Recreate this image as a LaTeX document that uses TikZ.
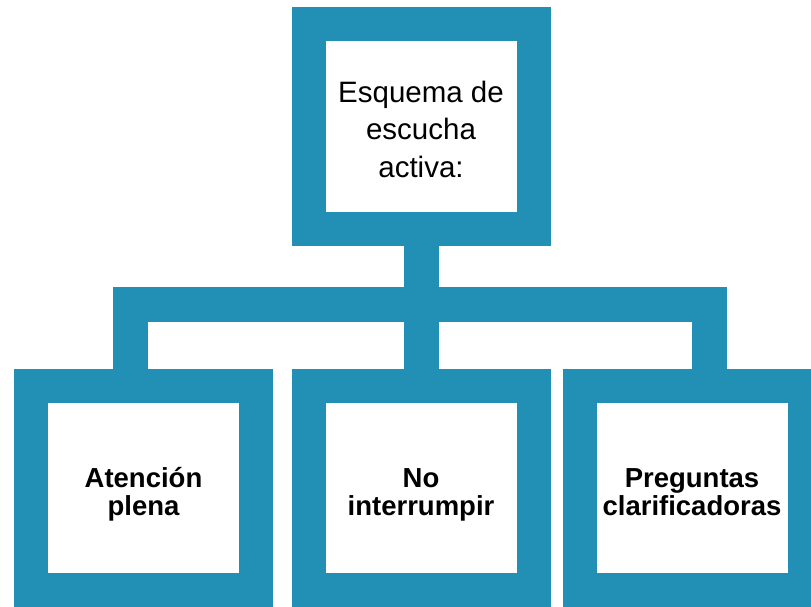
\documentclass[tikz,border=0pt]{standalone}
\usepackage{fontspec}
\setmainfont{Liberation Sans}
\usetikzlibrary{positioning, calc}
\definecolor{escuchaBlue}{RGB}{34,144,181}
\newcommand{\leafup}{\rule{0pt}{33pt}}
\newcommand{\leafdown}{\rule[-6pt]{0pt}{6pt}}
\newcommand{\ttlup}{\rule{0pt}{27pt}}

\begin{document}
\begin{tikzpicture}[
  x=1pt, y=-1pt,
  %% Framed box style (thick blue frame, white inside)
  frame/.style={
    rectangle, fill=white, draw=escuchaBlue,
    line width=34pt, inner sep=0pt,
    minimum width=225pt, minimum height=204pt,
    align=center
  },
  %% Title text
  ttl/.style={font=\fontsize{29.5}{37.5}\selectfont},
  %% Leaf text
  leaf/.style={font=\fontsize{27.5}{27.5}\selectfont\bfseries},
  %% Tree connector
  link/.style={draw=escuchaBlue, line width=35pt, line join=miter},
]

%% ── canvas ─────────────────────────────────────────────────────────────────
\clip (0,0) rectangle (811,606);
\fill[white] (0,0) rectangle (811,606);

%% ── Y positions (top to bottom) ───────────────────────────────────────────
\def\yTOP{126.5}
\def\yBAR{304}
\def\yLEAF{488}

%% ── TOP BOX ────────────────────────────────────────────────────────────────
\node[frame, minimum height=205pt, ttl] (top) at (421,\yTOP)
  {\ttlup Esquema de\\escucha\\activa:};

%% ── LEAF BOXES ─────────────────────────────────────────────────────────────
\node[frame, leaf] (aten) at (143.5,\yLEAF) {\leafup Atención\\plena\leafdown};
\node[frame, leaf] (nointer) at (421,\yLEAF) {\leafup No\\interrumpir\leafdown};
\node[frame, leaf] (pregun) at (692,\yLEAF)
  {\leafup Preguntas\\clarificadoras\leafdown};

%% ── BRANCH POINTS ──────────────────────────────────────────────────────────
\coordinate (legL) at (130.5,\yBAR);
\coordinate (legR) at (709.5,\yBAR);

%% ── CONNECTORS ─────────────────────────────────────────────────────────────
\draw[link] (top.south) -- (nointer.north);
\draw[link] (aten.north -| legL) -- (legL) -- (legR) -- (pregun.north -| legR);

\end{tikzpicture}
\end{document}
